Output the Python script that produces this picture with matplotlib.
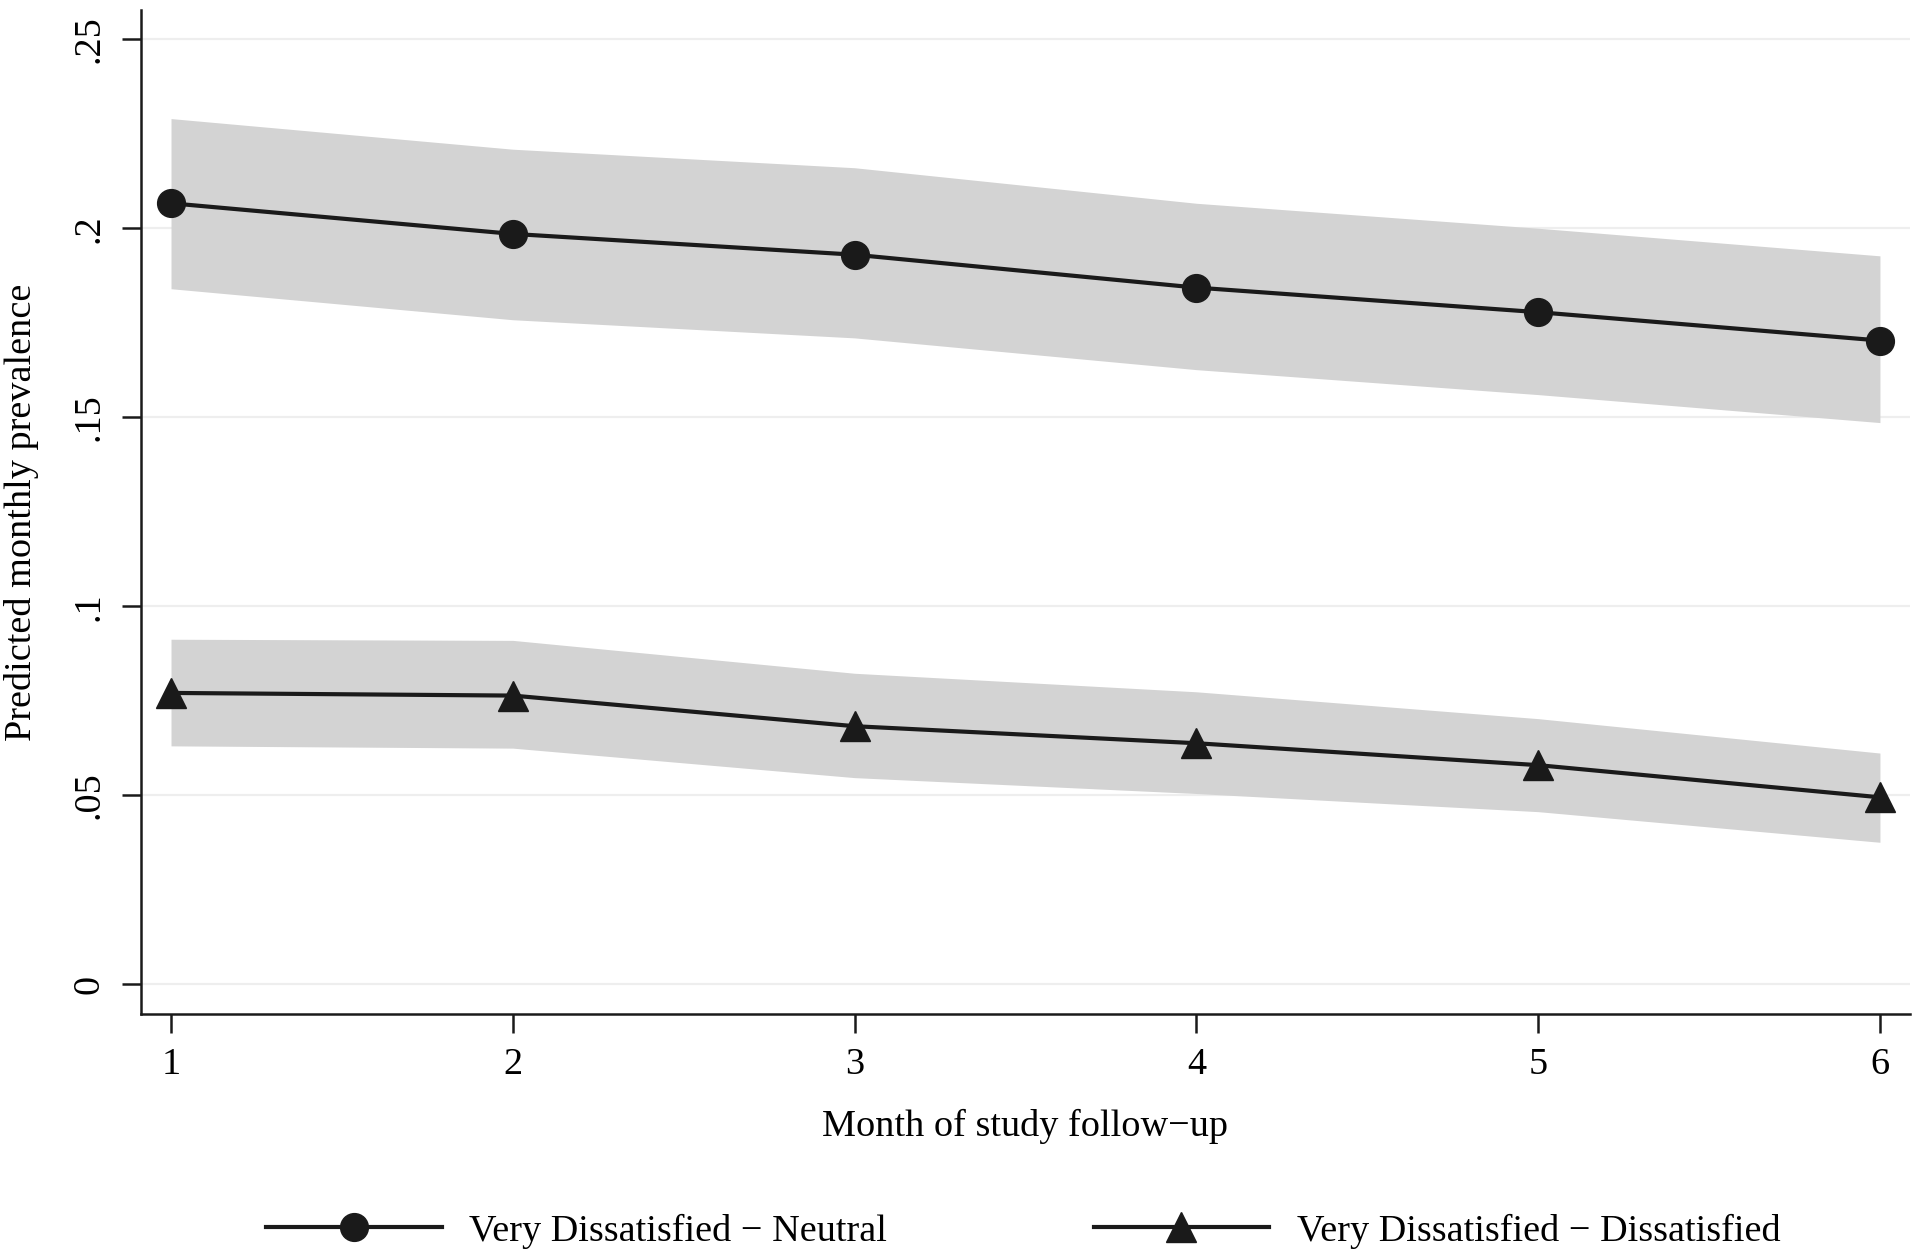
import matplotlib
matplotlib.use("Agg")
import matplotlib.pyplot as plt
import numpy as np

plt.rcParams['font.family'] = ['Liberation Serif', 'DejaVu Serif']

# Data
months = [1, 2, 3, 4, 5, 6]

neutral = [0.2066, 0.1985, 0.1930, 0.1843, 0.1778, 0.1703]
neutral_hi = [0.2290, 0.2209, 0.2160, 0.2066, 0.2000, 0.1927]
neutral_lo = [0.1840, 0.1758, 0.1710, 0.1626, 0.1560, 0.1486]

dissat = [0.0771, 0.0764, 0.0683, 0.0638, 0.0580, 0.0495]
dissat_hi = [0.0913, 0.0910, 0.0823, 0.0774, 0.0703, 0.0612]
dissat_lo = [0.0631, 0.0625, 0.0547, 0.0505, 0.0457, 0.0376]

yticks = [0, 0.05, 0.1, 0.15, 0.2, 0.25]
ytick_labels = ['0', '.05', '.1', '.15', '.2', '.25']

series_labels = ['Very Dissatisfied \u2212 Neutral', 'Very Dissatisfied \u2212 Dissatisfied']

fs = 27.5

fig = plt.figure(figsize=(19.2, 12.58), dpi=100)
ax = fig.add_axes([0.0734, 0.194, 0.9214, 0.798])

ci_color = '#d3d3d3'
line_color = '#1a1a1a'

# grid lines
for yv in yticks:
    ax.axhline(yv, color='#eeeeee', lw=1.6, zorder=0)

ax.fill_between(months, neutral_lo, neutral_hi, color=ci_color, lw=0, zorder=1)
ax.fill_between(months, dissat_lo, dissat_hi, color=ci_color, lw=0, zorder=1)

ax.plot(months, neutral, color=line_color, lw=3.0, marker='o', ms=20,
        label=series_labels[0], zorder=3)
ax.plot(months, dissat, color=line_color, lw=3.0, marker='^', ms=22,
        label=series_labels[1], zorder=3)

ax.set_xlim(0.912, 6.088)
ax.set_ylim(-0.0078, 0.2577)

ax.set_xticks(months)
ax.set_xticklabels([str(m) for m in months], fontsize=fs)
ax.set_yticks(yticks)
ax.set_yticklabels(ytick_labels, fontsize=fs, rotation=90, va='center')

ax.tick_params(axis='both', length=14, width=1.8, color=line_color, pad=10)
ax.tick_params(axis='y', pad=11)

for side in ['top', 'right']:
    ax.spines[side].set_visible(False)
for side in ['left', 'bottom']:
    ax.spines[side].set_linewidth(1.8)
    ax.spines[side].set_color(line_color)

ax.set_xlabel('Month of study follow\u2212up', fontsize=fs)
ax.xaxis.set_label_coords(0.5, -0.095)
ax.set_ylabel('Predicted monthly prevalence', fontsize=fs)
ax.yaxis.set_label_coords(-0.0577, 0.5)

fig.legend(loc='center', bbox_to_anchor=(0.533, 0.0215), ncol=2, frameon=False,
           fontsize=fs, handlelength=4.6, handletextpad=0.73, columnspacing=5.4)

fig.savefig('out.png', dpi=100, facecolor='white')
